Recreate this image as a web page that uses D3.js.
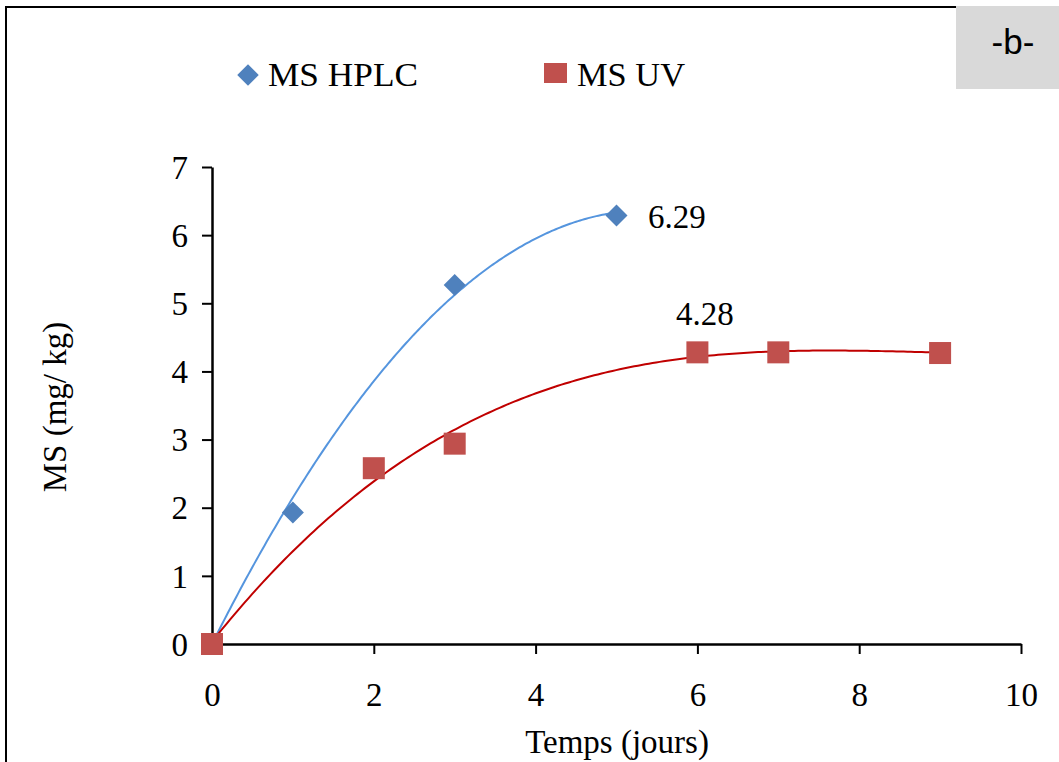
<!DOCTYPE html>
<html>
<head>
<meta charset="utf-8">
<script src="https://cdn.jsdelivr.net/npm/d3@7"></script>
<style>
  body { margin: 0; background: #fff; }
  svg text { font-family: "Liberation Serif", "Times New Roman", serif; fill: #000; }
</style>
</head>
<body>
<svg id="chart" width="1059" height="762"></svg>
<script>
// data
const hplcDays = [0, 1, 3, 5];
const hplcValues = [0, 1.93, 5.27, 6.29];
const uvDays = [0, 2, 3, 6, 7, 9];
const uvValues = [0, 2.58, 2.94, 4.28, 4.28, 4.27];
const xTicks = [0, 2, 4, 6, 8, 10];
const yTicks = [0, 1, 2, 3, 4, 5, 6, 7];
const seriesNames = ['MS HPLC', 'MS UV'];
const panelLabel = '-b-';

const svg = d3.select('#chart');

const x = d3.scaleLinear().domain([0, 10]).range([212, 1021]);
const y = d3.scaleLinear().domain([0, 7]).range([644, 167]);

// least squares polynomial (trend line like the spreadsheet one)
function polyfit(xs, ys, deg, origin) {
  const pows = d3.range(origin ? 1 : 0, deg + 1);
  const n = pows.length;
  const A = pows.map(p => pows.map(q => d3.sum(xs, v => Math.pow(v, p + q))));
  const b = pows.map(p => d3.sum(xs, (v, i) => Math.pow(v, p) * ys[i]));
  for (let i = 0; i < n; i++) {
    let m = i;
    for (let r = i + 1; r < n; r++) if (Math.abs(A[r][i]) > Math.abs(A[m][i])) m = r;
    [A[i], A[m]] = [A[m], A[i]];
    [b[i], b[m]] = [b[m], b[i]];
    for (let r = i + 1; r < n; r++) {
      const f = A[r][i] / A[i][i];
      for (let c = i; c < n; c++) A[r][c] -= f * A[i][c];
      b[r] -= f * b[i];
    }
  }
  const coef = new Array(n).fill(0);
  for (let i = n - 1; i >= 0; i--) {
    let s = b[i];
    for (let c = i + 1; c < n; c++) s -= A[i][c] * coef[c];
    coef[i] = s / A[i][i];
  }
  return v => d3.sum(pows, (p, i) => coef[i] * Math.pow(v, p));
}

function trend(xs, ys, deg, origin) {
  const f = polyfit(xs, ys, deg, origin);
  const lo = d3.min(xs), hi = d3.max(xs);
  return d3.range(0, 201).map(i => {
    const v = lo + (hi - lo) * i / 200;
    return [v, f(v)];
  });
}

// outer frame
svg.append('rect')
  .attr('x', 6).attr('y', 7)
  .attr('width', 1200).attr('height', 900)
  .attr('fill', 'none')
  .attr('stroke', '#000')
  .attr('stroke-width', 2);

// panel tag
svg.append('rect')
  .attr('x', 956).attr('y', 6)
  .attr('width', 110).attr('height', 83)
  .attr('fill', '#d9d9d9');
svg.append('text')
  .attr('x', 1013).attr('y', 54)
  .attr('text-anchor', 'middle')
  .style('font-family', '"Liberation Sans", Arial, sans-serif')
  .style('font-size', '35px')
  .text(panelLabel);

// axes
const xAxis = svg.append('g')
  .attr('transform', `translate(0,${y(0)})`)
  .call(d3.axisBottom(x).tickValues(xTicks).tickFormat(d3.format('d'))
    .tickSize(10).tickSizeOuter(0).tickPadding(29));
const yAxis = svg.append('g')
  .attr('transform', `translate(${x(0)},0)`)
  .call(d3.axisLeft(y).tickValues(yTicks).tickFormat(d3.format('d'))
    .tickSize(10).tickSizeOuter(0).tickPadding(14));

[xAxis, yAxis].forEach(g => {
  g.select('.domain').attr('stroke', '#000').attr('stroke-width', 2.5);
  g.selectAll('.tick line').attr('stroke', '#000').attr('stroke-width', 2);
  g.selectAll('.tick text')
    .style('font-family', '"Liberation Serif", "Times New Roman", serif')
    .style('font-size', '33px')
    .attr('fill', '#000');
});
yAxis.selectAll('.tick text').attr('dy', '0.34em');

svg.append('text')
  .attr('x', 617).attr('y', 753)
  .attr('text-anchor', 'middle')
  .style('font-size', '33px')
  .text('Temps (jours)');

svg.append('text')
  .attr('transform', 'translate(66,407) rotate(-90)')
  .attr('text-anchor', 'middle')
  .style('font-size', '33px')
  .text('MS (mg/ kg)');

// trend lines
const line = d3.line().x(d => x(d[0])).y(d => y(d[1]));

svg.append('path')
  .datum(trend(hplcDays, hplcValues, 2, true))
  .attr('d', line)
  .attr('fill', 'none')
  .attr('stroke', '#5595de')
  .attr('stroke-width', 2);

svg.append('path')
  .datum(trend(uvDays, uvValues, 3, false))
  .attr('d', line)
  .attr('fill', 'none')
  .attr('stroke', '#c00000')
  .attr('stroke-width', 2);

// markers
const diamond = d3.symbol().type(d3.symbolSquare).size(242);

svg.append('g').selectAll('path')
  .data(hplcDays.map((d, i) => [d, hplcValues[i]]))
  .join('path')
  .attr('d', diamond)
  .attr('transform', d => `translate(${x(d[0])},${y(d[1])}) rotate(45)`)
  .attr('fill', '#4f81bd');

svg.append('g').selectAll('rect')
  .data(uvDays.map((d, i) => [d, uvValues[i]]))
  .join('rect')
  .attr('x', d => x(d[0]) - 11)
  .attr('y', d => y(d[1]) - 11)
  .attr('width', 22)
  .attr('height', 22)
  .attr('fill', '#c0504d');

// value labels
svg.append('text')
  .attr('x', 648).attr('y', 228)
  .style('font-size', '33px')
  .text(d3.format('.2f')(hplcValues[hplcValues.length - 1]));
svg.append('text')
  .attr('x', 676).attr('y', 325)
  .style('font-size', '33px')
  .text(d3.format('.2f')(uvValues[3]));

// legend
const legend = svg.append('g');
legend.append('path')
  .attr('d', d3.symbol().type(d3.symbolSquare).size(230))
  .attr('transform', 'translate(248,75) rotate(45)')
  .attr('fill', '#4f81bd');
legend.append('text')
  .attr('x', 268).attr('y', 86)
  .attr('textLength', 150)
  .attr('lengthAdjust', 'spacingAndGlyphs')
  .style('font-size', '33px')
  .text(seriesNames[0]);
legend.append('rect')
  .attr('x', 544).attr('y', 63)
  .attr('width', 23).attr('height', 20)
  .attr('fill', '#c0504d');
legend.append('text')
  .attr('x', 577).attr('y', 86)
  .attr('textLength', 108)
  .attr('lengthAdjust', 'spacingAndGlyphs')
  .style('font-size', '33px')
  .text(seriesNames[1]);
</script>
</body>
</html>
